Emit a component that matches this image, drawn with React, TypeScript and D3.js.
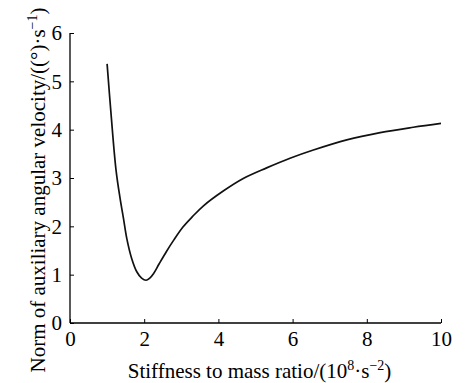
import * as d3 from 'd3';
import React, { useRef, useEffect } from 'react';

// values
const stiffness = [1.0, 1.11, 1.24, 1.35, 1.44, 1.53, 1.66, 1.8, 1.93, 2.05, 2.15, 2.25, 2.4, 2.6, 2.8, 3.05, 3.3, 3.59, 4.13, 4.67, 5.3, 5.93, 6.56, 7.46, 8.36, 9.25, 10.0];
const velocity = [5.36, 4.29, 3.17, 2.58, 2.17, 1.75, 1.34, 1.06, 0.93, 0.885, 0.93, 1.02, 1.22, 1.48, 1.72, 1.99, 2.2, 2.42, 2.73, 2.99, 3.21, 3.41, 3.58, 3.79, 3.94, 4.05, 4.13];
const xTicks = [0, 2, 4, 6, 8, 10];
const yTicks = [0, 1, 2, 3, 4, 5, 6];

const W = 465, H = 383;
const left = 70, right = 441, top = 33, bottom = 323;
const FONT = '"Liberation Serif", "Times New Roman", Times, serif';

export default function App() {
  const ref = useRef<SVGSVGElement>(null);

  useEffect(() => {
    const svg = d3.select(ref.current);
    svg.selectAll('*').remove();

    const x = d3.scaleLinear().domain([0, 10]).range([left, right]);
    const y = d3.scaleLinear().domain([0, 6]).range([bottom, top]);

    const xAxis = d3.axisBottom(x).tickValues(xTicks).tickSize(-4).tickPadding(8).tickFormat(d3.format('d'));
    const yAxis = d3.axisLeft(y).tickValues(yTicks).tickSize(-4).tickPadding(8).tickFormat(d3.format('d'));

    const gx = svg.append('g').attr('transform', `translate(0,${bottom})`).call(xAxis);
    const gy = svg.append('g').attr('transform', `translate(${left},0)`).call(yAxis);

    [gx, gy].forEach(g => {
      g.attr('font-family', FONT).attr('font-size', 21);
      g.select('.domain').attr('stroke', '#000').attr('stroke-width', 1.3);
      g.selectAll('.tick line').attr('stroke', '#000').attr('stroke-width', 1);
      g.selectAll('.tick text').attr('fill', '#000');
    });
    gx.select('.domain').attr('d', `M${left},0H${right}`);
    gy.select('.domain').attr('d', `M0,${bottom}V${top}`);

    const pts = stiffness.map((s, i) => [s, velocity[i]] as [number, number]);
    const line = d3.line<[number, number]>()
      .x(d => x(d[0]))
      .y(d => y(d[1]))
      .curve(d3.curveCatmullRom.alpha(0.5));

    svg.append('path')
      .attr('d', line(pts))
      .attr('fill', 'none')
      .attr('stroke', '#111')
      .attr('stroke-width', 1.7);

    svg.append('text')
      .attr('x', (left + right) / 2 + 4)
      .attr('y', 378)
      .attr('text-anchor', 'middle')
      .attr('font-family', FONT)
      .attr('font-size', 21)
      .html('Stiffness to mass ratio/(10<tspan dy="-8" font-size="14">8</tspan><tspan dy="8">·s</tspan><tspan dy="-8" font-size="14">−2</tspan><tspan dy="8">)</tspan>');

    svg.append('text')
      .attr('transform', 'translate(45,190) rotate(-90)')
      .attr('text-anchor', 'middle')
      .attr('font-family', FONT)
      .attr('font-size', 21)
      .html('Norm of auxiliary angular velocity/((°)·s<tspan dy="-8" font-size="14">−1</tspan><tspan dy="8">)</tspan>');
  }, []);

  return (
    <svg ref={ref} width={W} height={H} style={{ position: 'absolute', left: 0, top: 0, background: '#fff' }} />
  );
}
